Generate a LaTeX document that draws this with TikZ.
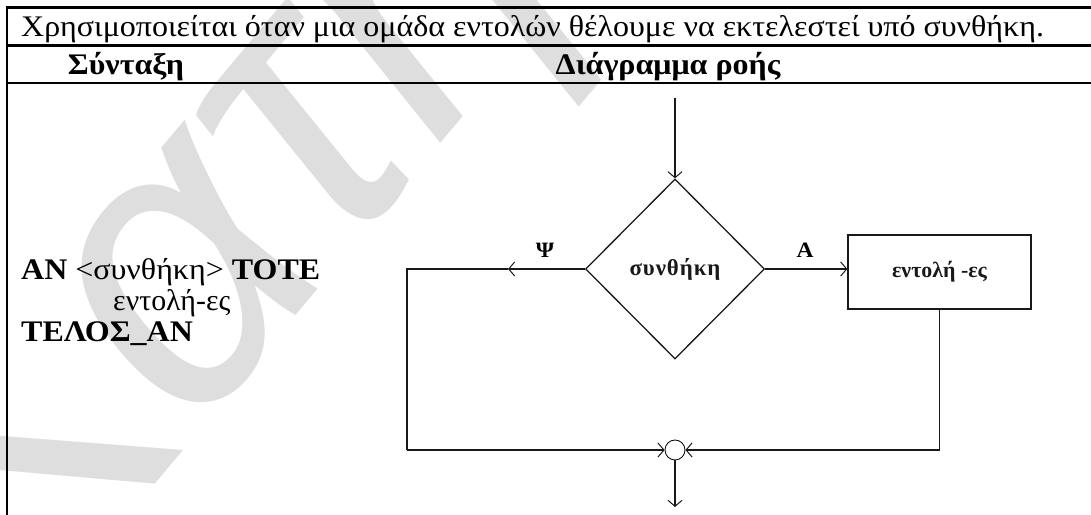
\documentclass[tikz,border=0pt]{standalone}
\usepackage{fontspec}
\setmainfont{Liberation Serif}[FakeStretch=1.07]
\newfontfamily\plainserif{Liberation Serif}
\newfontfamily\spacedserif{Liberation Serif}[LetterSpace=4]
\newfontfamily\wmfont{Liberation Sans}
\usetikzlibrary{shapes.geometric,arrows.meta}
\definecolor{wmgray}{RGB}{222,222,222}
\begin{document}
\begin{tikzpicture}[x=1bp,y=-1bp,
  tbl/.style={line width=2.2bp,black},
  flow/.style={line width=1.3bp,black!90},
  tip/.style={-{Straight Barb[length=6bp,width=14bp,line width=1bp]}},
  body/.style={inner sep=0,font=\fontsize{30}{36}\selectfont},
  head/.style={inner sep=0,font=\bfseries\fontsize{30}{36}\selectfont},
  lbl/.style={inner sep=0,font=\bfseries\fontsize{22}{26}\selectfont}]
\useasboundingbox (0,0) rectangle (1091,515);
% faint background lettering
\begin{scope}
  \clip (0,0) rectangle (1091,515);
  \node[rotate=50,anchor=base west,inner sep=0,text=wmgray,
        font=\wmfont\itshape\fontsize{400}{400}\selectfont] (wm) at (27,637) {Κατη};
\end{scope}
% table rules
\draw[tbl] (1091,7.5) -- (7,7.5) -- (7,515);
\draw[tbl] (7,45.5) -- (1091,45.5);
\draw[tbl] (7,83) -- (1091,83);
% table text
\node[body,anchor=base west] (intro) at (21,36.5) {Χρησιμοποιείται όταν μια ομάδα εντολών θέλουμε να εκτελεστεί υπό συνθήκη.};
\node[head,anchor=base] (hsyn) at (126,75) {Σύνταξη};
\node[head,anchor=base] (hflow) at (668,75) {Διάγραμμα ροής};
\node[body,anchor=base west] (l1) at (21,280) {\textbf{ΑΝ} <συνθήκη> \textbf{ΤΟΤΕ}};
\node[body,anchor=base west,font=\plainserif\fontsize{30}{36}\selectfont] (l2) at (113,311) {εντολή-ες};
\node[body,anchor=base west] (l3) at (21,342) {\textbf{ΤΕΛΟΣ\_ΑΝ}};
% flowchart
\node[diamond,draw,flow,lbl,font=\spacedserif\bfseries\fontsize{23}{26}\selectfont,
      minimum width=179bp,minimum height=180bp] (cond) at (675,269) {συνθήκη};
\node[rectangle,draw,flow,lbl,font=\plainserif\bfseries\fontsize{22}{26}\selectfont,
      minimum width=183bp,minimum height=74bp] (act) at (939.5,272) {εντολή -ες};
\node[circle,draw,line width=0.8bp,minimum size=20bp,inner sep=0] (join) at (675,450) {};
\coordinate (start) at (675,98);
\coordinate (psi) at (508,269);
\coordinate (lc) at (407,269);
\coordinate (lb) at (407,450);
\coordinate (rb) at (939.5,450);
\coordinate (end) at (675,507);
\draw[flow,tip] (start) -- (cond.north);
\draw[flow,tip] (cond.west) -- (psi);
\draw[flow] (psi) -- (lc) -- (lb);
\draw[flow,tip] (lb) -- (join.west);
\draw[flow,tip] (cond.east) -- (cond.east -| act.west);
\draw[flow] (act.south) -- (rb);
\draw[flow,tip] (rb) -- (join.east);
\draw[flow,tip] (join.south) -- (end);
\node[lbl] (psilbl) at (545,250) {Ψ};
\node[lbl] (alab) at (805,250) {Α};
\end{tikzpicture}
\end{document}
